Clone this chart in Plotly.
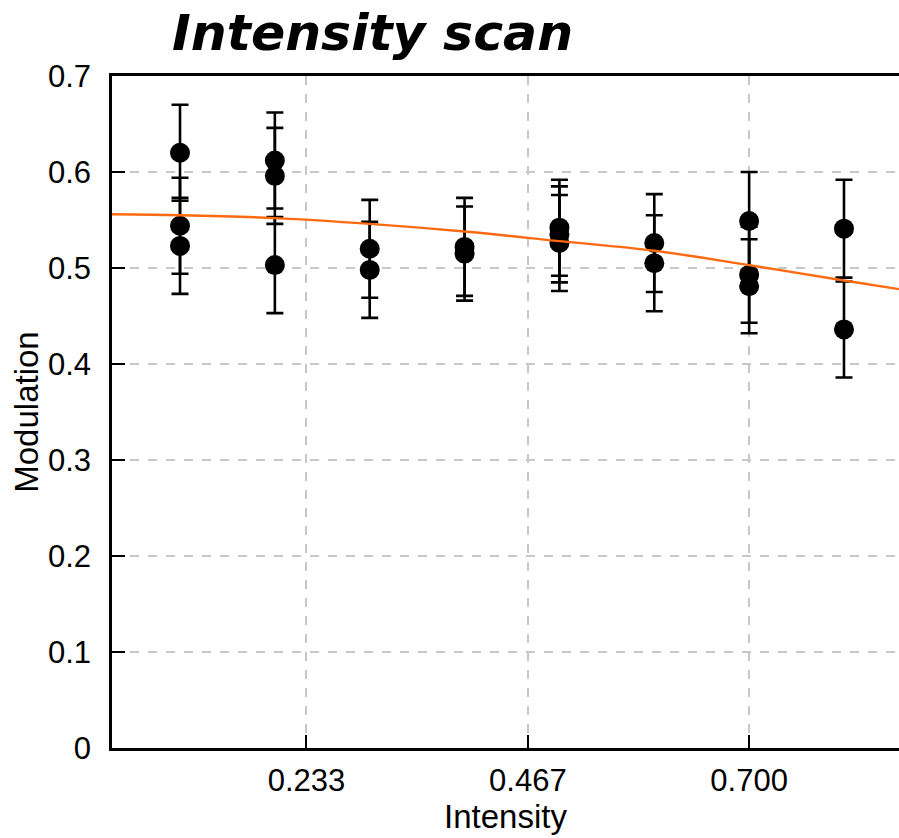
import plotly.graph_objects as go

# ---- data ----
intensity = [0.1, 0.1, 0.1,
             0.2, 0.2, 0.2,
             0.3, 0.3,
             0.4, 0.4,
             0.5, 0.5, 0.5,
             0.6, 0.6,
             0.7, 0.7, 0.7,
             0.8, 0.8]
modulation = [0.620, 0.544, 0.523,
              0.612, 0.596, 0.503,
              0.520, 0.498,
              0.522, 0.515,
              0.542, 0.535, 0.526,
              0.526, 0.505,
              0.549, 0.493, 0.481,
              0.541, 0.436]
mod_err = [0.050, 0.050, 0.050,
           0.050, 0.050, 0.050,
           0.051, 0.050,
           0.051, 0.049,
           0.050, 0.050, 0.050,
           0.051, 0.050,
           0.051, 0.050, 0.049,
           0.051, 0.050]

fit_x = [0.028, 0.1, 0.2, 0.3, 0.4, 0.5, 0.6, 0.7, 0.8, 0.858]
fit_y = [0.556, 0.555, 0.552, 0.546, 0.538, 0.528, 0.518, 0.503, 0.487, 0.478]

x_tickvals = [0.2333, 0.4667, 0.7000]
x_ticktext = ["0.233", "0.467", "0.700"]
y_tickvals = [0, 0.1, 0.2, 0.3, 0.4, 0.5, 0.6, 0.7]
y_ticktext = ["0", "0.1", "0.2", "0.3", "0.4", "0.5", "0.6", "0.7"]

fig = go.Figure()
fig.add_trace(go.Scatter(
    x=intensity, y=modulation, mode="markers",
    marker=dict(color="black", size=20),
    error_y=dict(type="data", array=mod_err, visible=True,
                 color="black", thickness=2.6, width=8.5),
    showlegend=False, hoverinfo="skip"))
fig.add_trace(go.Scatter(
    x=fit_x, y=fit_y, mode="lines",
    line=dict(color="#ff6a10", width=2.4, shape="spline"),
    showlegend=False, hoverinfo="skip"))

tick_font = dict(family="Liberation Sans, Arial, sans-serif", size=31, color="black")
title_font = dict(family="Liberation Sans, Arial, sans-serif", size=33, color="black")
fig.update_layout(
    width=899, height=838,
    margin=dict(l=112, r=0, t=76, b=90),
    paper_bgcolor="white", plot_bgcolor="white",
    title=dict(text="<b><i>Intensity scan</i></b>",
               font=dict(family="DejaVu Sans", size=50.5, color="black"),
               x=172/899, xanchor="left", xref="container",
               y=1-32/838, yanchor="middle", yref="container"),
    xaxis=dict(range=[0.0283, 0.858], tickvals=x_tickvals, ticktext=x_ticktext,
               showgrid=True, gridcolor="#c8c8c8", griddash="dash", gridwidth=1.5,
               zeroline=False, showline=True, linecolor="black", linewidth=2.5,
               mirror=True, ticks="inside", ticklen=13, tickwidth=2, tickcolor="black",
               tickfont=tick_font, ticklabelstandoff=3,
               title=dict(text="Intensity", font=title_font, standoff=4)),
    yaxis=dict(range=[0, 0.7], tickvals=y_tickvals, ticktext=y_ticktext,
               showgrid=True, gridcolor="#c8c8c8", griddash="dash", gridwidth=1.5,
               zeroline=False, showline=True, linecolor="black", linewidth=2.5,
               ticks="inside", ticklen=13, tickwidth=2, tickcolor="black",
               tickfont=tick_font, ticklabelstandoff=12,
               title=dict(text="Modulation", font=title_font, standoff=0)),
)

fig.write_html("out.html")
